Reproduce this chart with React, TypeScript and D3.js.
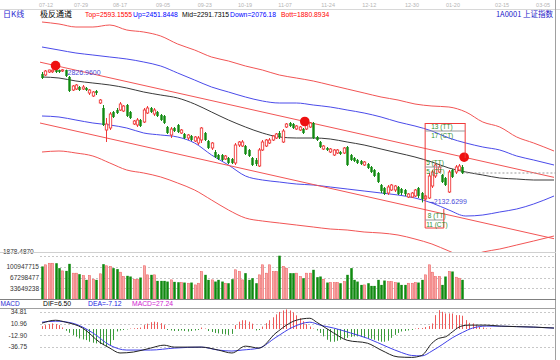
import React from "react";
import * as d3 from "d3";

// ---------- DATA ----------
const dateLabels = ["07-12","07-29","08-17","09-05","09-23","10-19","11-07","11-24","12-12","12-30","01-20","02-15","03-05"];
const dateIdx = [1.2, 11.5, 23, 35.7, 48, 59.9, 71.7, 84.4, 96.5, 109.1, 121.2, 135.7, 147.8];

// O, H, L, C per trading day
const ohlc: [number, number, number, number][] = [
  [2800.4,2810.8,2774.4,2779.6],[2795.2,2821.2,2790,2816],[2810.8,2823,2805.6,2821.2],[2812,2824.5,2805.6,2820],
  [2824,2826.96,2805.6,2810.8],[2821.2,2823,2805.6,2810.8],[2816,2826,2810.8,2822],[2821.2,2823,2784.8,2790],
  [2784.8,2790,2706.8,2712],[2717.2,2743.2,2712,2738],[2722.4,2748.4,2717.2,2743.2],[2732.8,2738,2712,2717.2],
  [2722.4,2743.2,2717.2,2732.8],[2727.6,2732.8,2712,2717.2],[2701.6,2722.4,2691.2,2717.2],[2686,2712,2680.8,2706.8],
  [2712,2717.2,2691.2,2701.6],[2649.6,2670.4,2644.4,2665.2],[2623.6,2639.2,2530,2535.2],[2509.2,2571.6,2446.8,2540.4],
  [2519.6,2602.8,2509.2,2592.4],[2602.8,2608,2571.6,2576.8],[2613.2,2623.6,2592.4,2597.6],[2613.2,2654.8,2608,2644.4],
  [2608,2639.2,2602.8,2634],[2639.2,2644.4,2576.8,2582],[2602.8,2608,2566.4,2571.6],[2540.4,2561.2,2535.2,2556],
  [2535.2,2571.6,2524.8,2561.2],[2561.2,2566.4,2524.8,2530],[2550.8,2623.6,2545.6,2613.2],[2597.6,2634,2592.4,2623.6],
  [2623.6,2628.8,2597.6,2602.8],[2592.4,2623.6,2582,2613.2],[2602.8,2608,2576.8,2582],[2587.2,2592.4,2556,2561.2],
  [2582,2587.2,2540.4,2545.6],[2524.8,2530,2488.4,2493.6],[2483.2,2524.8,2467.6,2514.4],[2519.6,2524.8,2498.8,2504],
  [2535.2,2540.4,2493.6,2498.8],[2493.6,2514.4,2488.4,2509.2],[2488.4,2493.6,2462.4,2467.6],[2467.6,2488.4,2457.2,2483.2],
  [2478,2483.2,2452,2457.2],[2452,2478,2446.8,2472.8],[2441.6,2478,2431.2,2467.6],[2457.2,2524.8,2441.6,2519.6],
  [2493.6,2498.8,2452,2457.2],[2452,2457.2,2410.4,2415.6],[2415.6,2446.8,2405.2,2441.6],[2394.8,2405.2,2363.6,2368.8],
  [2379.2,2384.4,2353.2,2358.4],[2379.2,2384.4,2348,2353.2],[2358.4,2379.2,2353.2,2374],[2363.6,2368.8,2332.4,2337.6],
  [2358.4,2363.6,2332.4,2337.6],[2337.6,2441.6,2327.2,2431.2],[2431.2,2452,2420.8,2446.8],[2426,2457.2,2420.8,2446.8],
  [2426,2431.2,2379.2,2384.4],[2405.2,2410.4,2368.8,2374],[2363.6,2368.8,2322,2327.2],[2353.2,2363.6,2322,2332.4],
  [2322,2415.6,2316.8,2405.2],[2405.2,2457.2,2400,2446.8],[2426,2462.4,2420.8,2457.2],[2441.6,2467.6,2436.4,2457.2],
  [2457.2,2483.2,2452,2478],[2467.6,2493.6,2462.4,2488.4],[2493.6,2504,2462.4,2472.8],[2446.8,2514.4,2441.6,2504],
  [2524.8,2545.6,2519.6,2540.4],[2545.6,2550.8,2524.8,2530],[2540.4,2545.6,2514.4,2519.6],[2514.4,2535.2,2509.2,2530],
  [2509.2,2530,2504,2524.8],[2514.4,2519.6,2488.4,2493.6],[2514.4,2561.2,2509.2,2556],[2524.8,2550.8,2519.6,2545.6],
  [2545.6,2550.8,2462.4,2467.6],[2472.8,2478,2452,2457.2],[2446.8,2452,2415.6,2420.8],[2410.4,2431.2,2405.2,2426],
  [2415.6,2420.8,2400,2405.2],[2394.8,2415.6,2389.6,2410.4],[2379.2,2410.4,2374,2405.2],[2389.6,2410.4,2384.4,2405.2],
  [2394.8,2400,2379.2,2384.4],[2389.6,2420.8,2384.4,2415.6],[2420.8,2426,2322,2327.2],[2379.2,2384.4,2348,2353.2],
  [2363.6,2368.8,2342.8,2348],[2353.2,2358.4,2332.4,2337.6],[2348,2353.2,2327.2,2332.4],[2327.2,2348,2322,2342.8],
  [2332.4,2337.6,2306.4,2311.6],[2316.8,2322,2285.6,2290.8],[2301.2,2306.4,2264.8,2270],[2285.6,2290.8,2233.6,2238.8],
  [2223.2,2228.4,2181.6,2192],[2207.6,2212.8,2171.2,2176.4],[2181.6,2223.2,2171.2,2212.8],[2197.2,2228.4,2192,2223.2],
  [2197.2,2223.2,2186.8,2218],[2212.8,2218,2171.2,2176.4],[2202.4,2207.6,2171.2,2181.6],[2197.2,2202.4,2166,2176.4],
  [2160.8,2181.6,2155.6,2176.4],[2160.8,2186.8,2155.6,2181.6],[2166,2202.4,2160.8,2197.2],[2207.6,2212.8,2155.6,2166],
  [2181.6,2186.8,2132.6299,2150.4],[2150.4,2171.2,2145.2,2166],[2155.6,2285.6,2150.4,2270],[2218,2301.2,2207.6,2290.8],
  [2270,2337.6,2259.6,2327.2],[2290.8,2327.2,2285.6,2316.8],[2275.2,2280.4,2233.6,2238.8],[2259.6,2264.8,2218,2223.2],
  [2186.8,2301.2,2181.6,2290.8],[2301.2,2306.4,2259.6,2264.8],[2290.8,2327.2,2280.4,2316.8],[2301.2,2332.4,2296,2322],
  [2316.8,2327.2,2280.4,2285.6],
];

// volume, millions of shares
const volumes: number[] = [
  101.9,107,112,112,112,96.6,88,88,110,80.9,80.9,77.7,73.5,59.9,73.5,62,59.9,78.8,109,104,101.9,96.6,93.5,84,70.4,
  72.5,70.4,62,62,67.2,104,75.6,75.6,75.6,56.7,56.7,56.7,54.6,59.9,53.6,52.5,51.5,51.5,49.4,51.5,44.1,49.4,
  86.1,75.6,59.9,59.9,54.6,59.9,54.6,49.4,49.4,62,91.4,86.1,59.9,80.9,59.9,65.1,49.4,75.6,107,80.9,107,86.1,86.1,
  135.5,101.9,96.6,80.9,80.9,80.9,70.4,65.1,80.9,80.9,91.4,68.3,70.4,62,51.5,51.5,51.5,51.5,49.4,54.6,75.6,96.6,
  59.9,54.6,44.1,44.1,49.4,41,41,59.9,44.1,57.8,54.6,54.6,51.5,51.5,
  44.1,44.1,49.4,49.4,51.5,51.5,59.9,75.6,107,84,70.4,70.4,44.1,70.4,86.1,86.1,68.3,65.1,59.9,
];
const volTicks = [33649238, 67298477, 100947715, 134596954];

// channel bands sampled every 5 days (last point = right edge)
const chanIdx = [0,5,10,15,20,25,30,35,40,45,50,55,60,65,70,75,80,85,90,95,100,105,110,115,120,125,130,135,140,145,151];
const bandTop = [3070.8,3060.4,3044.8,3044.8,3055.2,3029.2,3018.8,2998,2956.4,2925.2,2888.8,2868,2842,2821.2,2795.2,2779.6,2764,2743.2,2722.4,2701.6,2680.8,2665.2,2644.4,2634,2628.8,2602.8,2550.8,2524.8,2472.8,2441.6,2400];
const bandUp = [2940.8,2925.2,2909.6,2899.2,2888.8,2878.4,2862.8,2842,2805.6,2769.2,2732.8,2706.8,2680.8,2660,2649.6,2649.6,2639.2,2628.8,2613.2,2597.6,2576.8,2550.8,2530,2504,2467.6,2441.6,2420.8,2405.2,2374,2353.2,2327.2];
const bandMid = [2784.8,2779.6,2764,2753.6,2743.2,2727.6,2706.8,2691.2,2675.6,2644.4,2602.8,2561.2,2524.8,2493.6,2472.8,2467.6,2467.6,2462.4,2446.8,2431.2,2410.4,2389.6,2368.8,2342.8,2311.6,2290.8,2275.2,2259.6,2254.4,2249.2,2249.2];
const bandDown = [2582,2576.8,2561.2,2545.6,2535.2,2519.6,2493.6,2483.2,2472.8,2441.6,2379.2,2327.2,2270,2249.2,2238.8,2228.4,2223.2,2212.8,2202.4,2192,2181.6,2171.2,2155.6,2129.6,2093.2,2062,2067.2,2082.8,2098.4,2124.4,2166];
const bandBott = [2394.8,2400,2389.6,2374,2337.6,2301.2,2285.6,2265,2233.6,2197.2,2145.2,2093.2,2051.6,2036,2025.6,2015.2,2004.8,1994.4,1989.2,1978.8,1973.6,1963.2,1942.4,1916.4,1880,1848.8,1874.8,1890.4,1911.2,1932,1958];

// straight parallel trend lines: [index, price]
const upperTrend: [number, number][] = [[-0.6, 2862], [151, 2263]];
const lowerTrend: [number, number][] = [[-0.6, 2545.6], [151, 1944]];
const touchIdx = [4, 77.5, 124.5];

// MACD
const difPts: [number, number][] = [[0,12],[4,18],[7,14],[12,2],[17,-27],[20,-39],[23,-49],[27,-47],[32,-39],[36,-33],[39,-37],[43,-37],[47,-37],[52,-43],[56,-49],[60,-35],[64,-39],[69,-8],[75,18],[79,22],[81,14],[86,-8],[90,-23],[96,-29],[100,-43],[105,-57],[109,-58],[112,-54],[115,-29],[117,-19],[119,-16],[121,-6],[123,4],[124,6.5],[126,8],[131,8],[135,6],[145,4],[151,2]];
const deaPts: [number, number][] = [[0,14],[4,16],[9,12],[15,-8],[20,-33],[25,-43],[32,-43],[39,-39],[47,-37],[52,-43],[56,-45],[59,-43],[64,-39],[69,-17],[74,4],[79,14],[82,8],[86,2],[91,-8],[96,-19],[102,-37],[106,-48],[109,-54],[112,-55],[115,-45],[118,-32],[121,-18],[124,-7.1],[127,2],[131,6],[140,5],[151,2]];
const macdHist: number[] = [
  5.9,8,10,11.4,10,8,3.2,-3.6,-7.7,-12.4,-15.8,-19.2,-21.3,-22.6,-26,-28,-29.4,-30.8,-32.8,-34.9,-32.8,-22.6,
  -5,-3,-2,-1,1,1.5,2,3,8,11,14,15,14,12,8,-2,-3,-4,-4,-3,-4,-5,-4,-3,-2,
  3,1,-4,-6,-8,-9,-10,-11,-12,-10,8,15,18,18,15,11,-3,-2,5,12,18,24,30,35,38,40,38,34,28,22,16,10,5,1,
  -3,-8,-15,-22,-26,-26,-24,-22,-20,-18,-16,-15,-15,-16,-18,-20,-20,-22,-24,-26,-26,-24,-18,-12,-8,
  -5,-4,-3,-2,1,2,2,4,6,11.4,28.4,38.6,35.2,31.8,31.8,31.8,28.4,28.4,27.2,18.2,12.7,11.4,8,4.6,3.2,1.2,1.2,
];
const macdTicks = [34.81, 10.96, -12.90, -36.75];

// ---------- COLORS ----------
const RED = "#f03a3a";
const GREEN = "#108a10";
const BAND_RED = "#f25555";
const BAND_BLUE = "#4b4bea";
const GRID = "#c8c8c8";
const FONT = "'Liberation Sans', Arial, sans-serif";
const CJK = "'Noto Sans CJK SC', sans-serif";

export default function App() {
  const x = d3.scaleLinear().domain([0, 151]).range([42, 554]);
  const y = d3.scaleLinear().domain([1880, 2920]).range([251, 51]);
  const yv = d3.scaleLinear().domain([0, 134596954]).range([299, 256]);
  const ym = d3.scaleLinear().domain([-36.75, 34.81]).range([347, 312]);

  const bandLine = d3.line<number>().x((_, i) => x(chanIdx[i])).y((d) => y(d)).curve(d3.curveMonotoneX);
  const ptLine = d3.line<[number, number]>().x((d) => x(d[0])).y((d) => ym(d[1])).curve(d3.curveMonotoneX);
  const trendLine = d3.line<[number, number]>().x((d) => x(d[0])).y((d) => y(d[1]));
  const trendAt = (t: [number, number][], i: number) =>
    t[0][1] + ((t[1][1] - t[0][1]) * (i - t[0][0])) / (t[1][0] - t[0][0]);

  const bw = 2.4;
  const last = ohlc[ohlc.length - 1];
  const lowIdx = d3.minIndex(ohlc, (d) => d[2]);
  const highIdx = d3.maxIndex(ohlc, (d) => d[1]);

  return (
    <svg width={560} height={360} style={{ position: "absolute", left: 0, top: 0, background: "#fff" }} fontFamily={FONT}>
      <defs>
        <clipPath id="mainClip"><rect x={40} y={10} width={516} height={242} /></clipPath>
      </defs>
      <rect x={0} y={0} width={560} height={360} fill="#fff" />
      {/* date strip */}
      {dateLabels.map((d, i) => (
        <text key={d} x={x(dateIdx[i])} y={7} fontSize={5.5} fill="#b4b4b4" textAnchor="middle">{d}</text>
      ))}
      <line x1={0} x2={560} y1={9.5} y2={9.5} stroke="#d8d8d8" />
      <line x1={555.5} x2={555.5} y1={0} y2={360} stroke="#a0a0a0" />

      {/* header */}
      <text x={3} y={17} fontSize={8} fill="#2a2ad0" fontFamily={CJK}>日K线</text>
      <text x={40} y={17} fontSize={8} fill="#000" fontFamily={CJK}>极反通道</text>
      <text x={85} y={17} fontSize={6.8} fill="#ff0000">Top=2593.1555</text>
      <text x={133} y={17} fontSize={6.8} fill="#0000ff">Up=2451.8448</text>
      <text x={182} y={17} fontSize={6.8} fill="#000">Mid=2291.7315</text>
      <text x={230} y={17} fontSize={6.8} fill="#0000ff">Down=2076.18</text>
      <text x={281} y={17} fontSize={6.8} fill="#ff0000">Bott=1880.8934</text>
      <text x={553} y={17} fontSize={7.5} fill="#1a1ac8" textAnchor="end" fontFamily={CJK}>1A0001 上证指数</text>

      <g clipPath="url(#mainClip)">
        {/* bands */}
        <path d={bandLine(bandTop)!} fill="none" stroke={BAND_RED} strokeWidth={1} />
        <path d={bandLine(bandUp)!} fill="none" stroke={BAND_BLUE} strokeWidth={1} />
        <path d={bandLine(bandMid)!} fill="none" stroke="#3a3a3a" strokeWidth={1} />
        <path d={bandLine(bandDown)!} fill="none" stroke={BAND_BLUE} strokeWidth={1} />
        <path d={bandLine(bandBott)!} fill="none" stroke={BAND_RED} strokeWidth={1} />
        <path d={trendLine(upperTrend)!} fill="none" stroke={BAND_RED} strokeWidth={1} />
        <path d={trendLine(lowerTrend)!} fill="none" stroke={BAND_RED} strokeWidth={1} />

        {/* last price line */}
        <line x1={x(ohlc.length - 1)} x2={556} y1={y(last[3])} y2={y(last[3])} stroke="#999" strokeDasharray="2,2" />

        {/* candles */}
        {ohlc.map((d, i) => {
          const up = d[3] >= d[0];
          const c = up ? RED : GREEN;
          const top = y(Math.max(d[0], d[3]));
          const bot = y(Math.min(d[0], d[3]));
          const cx = Math.round(x(i)) + 0.5;
          return (
            <g key={i}>
              <line x1={cx} x2={cx} y1={y(d[1])} y2={y(d[2])} stroke={c} strokeWidth={1} />
              {up ? (
                <rect x={cx - bw / 2} y={top} width={bw} height={Math.max(bot - top, 0.8)} fill="#fff" stroke={c} strokeWidth={0.9} />
              ) : (
                <rect x={cx - bw / 2} y={top} width={bw} height={Math.max(bot - top, 0.8)} fill={c} />
              )}
            </g>
          );
        })}

        {/* touch markers */}
        {touchIdx.map((t) => (
          <circle key={t} cx={x(t)} cy={y(trendAt(upperTrend, t))} r={4.8} fill="#ee1111" />
        ))}
        <path d={d3.symbol(d3.symbolStar, 14)()!} transform={`translate(${x(124)},${y(bandBott[24]) + 5})`} fill="#000" />

        {/* extreme labels */}
        <text x={x(highIdx) + 12} y={y(ohlc[highIdx][1]) + 6} fontSize={7} fill="#4a4ad8">{ohlc[highIdx][1].toFixed(4)}</text>
        <line x1={x(lowIdx) + 8} x2={x(lowIdx) + 12} y1={y(ohlc[lowIdx][2])} y2={y(ohlc[lowIdx][2])} stroke="#4a4ad8" />
        <text x={x(lowIdx) + 12} y={y(ohlc[lowIdx][2]) + 2} fontSize={7} fill="#4a4ad8">{ohlc[lowIdx][2].toFixed(4)}</text>

        {/* TT / CT counters */}
        <g stroke={RED} strokeWidth={1} fill="none">
          <line x1={x(113)} x2={x(113)} y1={123} y2={228} />
          <line x1={x(124.8)} x2={x(124.8)} y1={123} y2={158} />
          <line x1={x(113)} x2={x(124.8)} y1={123.5} y2={123.5} />
          <line x1={x(113)} x2={x(124.8)} y1={131} y2={131} stroke="#999" />
          <line x1={x(113)} x2={x(118)} y1={167} y2={167} stroke="#999" />
          <line x1={x(113)} x2={x(118.5)} y1={220} y2={220} stroke="#999" />
          <line x1={x(118.5)} x2={x(118.5)} y1={209} y2={228} />
          <line x1={x(113)} x2={x(118.5)} y1={228} y2={228} />
        </g>
        <g fontSize={6.5} fill="#2f8f2f">
          <text x={x(114.8)} y={129}>13 (TT)</text>
          <text x={x(114.8)} y={138}>17 (CT)</text>
          <text x={x(113.3)} y={165}>5 (TT)</text>
          <text x={x(113.3)} y={174}>5 (CT)</text>
          <text x={x(113.8)} y={218}>8 (TT)</text>
          <text x={x(113.3)} y={227}>11 (CT)</text>
        </g>
      </g>
      <text x={3} y={254} fontSize={6.5} fill="#333">1878.4870</text>
      <line x1={0} x2={556} y1={252.5} y2={252.5} stroke="#d0d0d0" />

      {/* volume panel */}
      {volTicks.map((t) => (
        <line key={t} x1={40} x2={556} y1={Math.round(yv(t)) + 0.5} y2={Math.round(yv(t)) + 0.5} stroke={GRID} strokeDasharray="2,2" />
      ))}
      {volTicks.slice(0, 3).map((t) => (
        <text key={t} x={39} y={yv(t) + 2.3} fontSize={6.5} fill="#333" textAnchor="end">{t}</text>
      ))}
      {volumes.map((v, i) => {
        const d = ohlc[i];
        const up = d[3] >= d[0];
        const cx = Math.round(x(i)) + 0.5;
        return up ? (
          <rect key={i} x={cx - 1.2} y={yv(v * 1e6)} width={2.4} height={299 - yv(v * 1e6)} fill="#f7a8a8" stroke="#ee5a5a" strokeWidth={0.5} />
        ) : (
          <rect key={i} x={cx - 1.25} y={yv(v * 1e6)} width={2.5} height={299 - yv(v * 1e6)} fill={GREEN} />
        );
      })}
      <line x1={0} x2={556} y1={299.5} y2={299.5} stroke="#808080" />

      {/* MACD header */}
      <text x={0.5} y={306} fontSize={6.5} fill="#2a2ad0">MACD</text>
      <text x={43} y={306} fontSize={6.8} fill="#000">DIF=6.50</text>
      <text x={88} y={306} fontSize={6.8} fill="#2020e0">DEA=-7.12</text>
      <text x={132} y={306} fontSize={6.8} fill="#d020d0">MACD=27.24</text>
      <line x1={0} x2={556} y1={308.5} y2={308.5} stroke="#a0a0a0" />

      {/* MACD panel */}
      {macdTicks.map((t) => (
        <line key={t} x1={40} x2={556} y1={Math.round(ym(t)) + 0.5} y2={Math.round(ym(t)) + 0.5} stroke={GRID} strokeDasharray="2,2" />
      ))}
      {macdTicks.map((t) => (
        <text key={t} x={27} y={ym(t) + 2.3} fontSize={6.5} fill="#333" textAnchor="end">{t.toFixed(2)}</text>
      ))}
      {macdHist.map((h, i) => {
        const cx = Math.round(x(i)) + 0.5;
        return <line key={i} x1={cx} x2={cx} y1={ym(0)} y2={ym(h)} stroke={h >= 0 ? "#ee5a5a" : "#3a9a3a"} strokeWidth={1} />;
      })}
      <path d={ptLine(deaPts)!} fill="none" stroke="#4040e8" strokeWidth={1} />
      <path d={ptLine(difPts)!} fill="none" stroke="#222" strokeWidth={1} />
    </svg>
  );
}
